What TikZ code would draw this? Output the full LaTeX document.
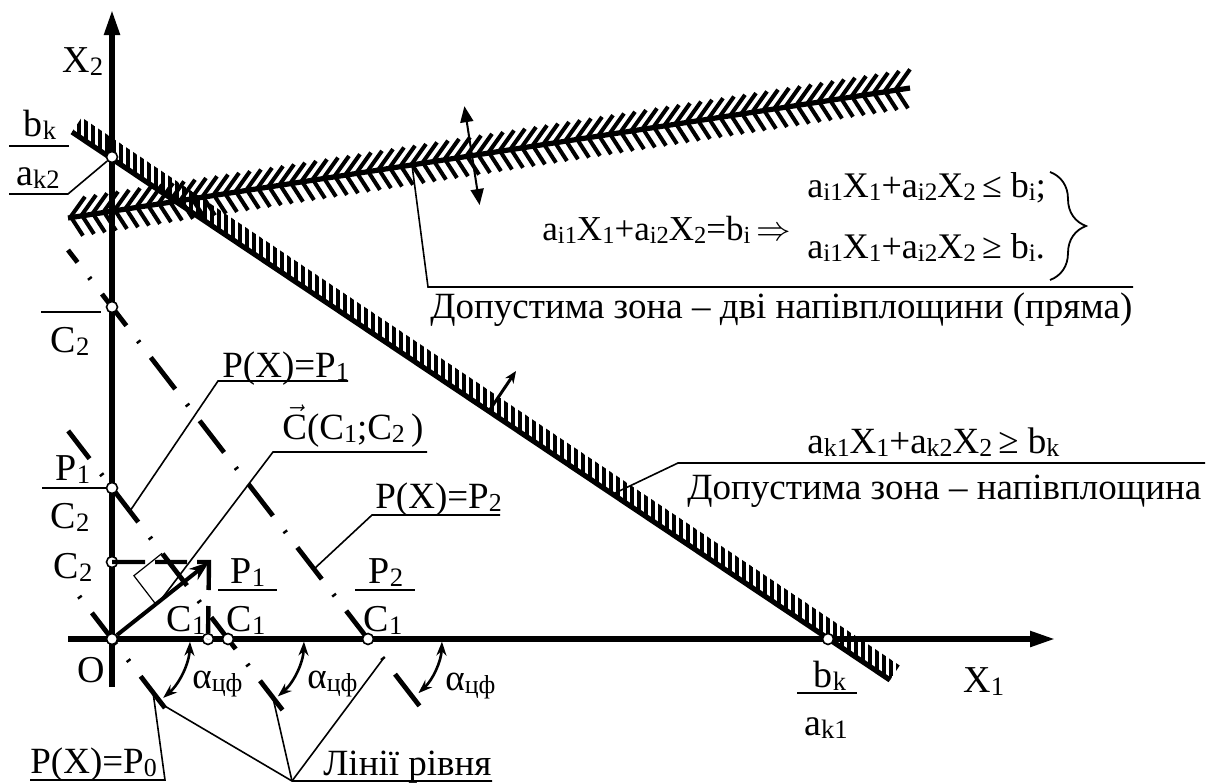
\documentclass[tikz,border=0pt]{standalone}
\usepackage{fontspec}
\setmainfont{Liberation Serif}
\usepackage{graphicx}
\usetikzlibrary{arrows.meta,calc,decorations.pathreplacing}
\newcommand{\ssub}[1]{\raisebox{-0.22ex}{\scalebox{0.7}{#1}}}
\begin{document}
\begin{tikzpicture}[x=0.5pt,y=-0.5pt,
 axis/.style={line width=2.6pt,-{Triangle[length=12.5pt,width=7.5pt]}},
 thickline/.style={line width=2.6pt},
 level/.style={line width=2.4pt,dash pattern=on 20pt off 9.5pt on 1.2pt off 9.3pt},
 thinl/.style={line width=0.8pt},
 ptc/.style={circle,draw,fill=white,line width=0.8pt,inner sep=0pt,minimum size=5.5pt},
 lbl/.style={font=\fontsize{19}{21}\selectfont,inner sep=0pt,anchor=base},
 txt/.style={font=\fontsize{18.5}{20}\selectfont,inner sep=0pt,anchor=base west},
 hk/.style={line width=1.6pt},
 hi/.style={line width=2pt},
 alph/.style={line width=1.3pt,{Stealth[length=7pt,width=5pt]}-{Stealth[length=7pt,width=5pt]}},
]
\useasboundingbox (0,0) rectangle (1215,782);

% ---- constraint k: half-plane band
\coordinate (kA) at (72,132);
\coordinate (kB) at (890,680);
\begin{scope}
\clip (kA) -- (kB) -- (899.7,665.5) -- (81.7,117.5) -- cycle;
\foreach \x in {72,79,...,905}
  \draw[hk] (\x,{132+(\x-72)*0.6699+2}) -- (\x,{132+(\x-72)*0.6699-28});
\end{scope}

% ---- constraint i: straight line band (both sides)
\coordinate (iA) at (68,218);
\coordinate (iB) at (910,88);
\foreach \x in {70,81,...,900} {
  \draw[hi] (\x,{218-(\x-68)*0.15439}) -- ++(15,-21);
  \draw[hi] (\x,{218-(\x-68)*0.15439}) ++(2,1) -- ++(11,17);
}
\draw[thickline] (kA) -- (kB);
\draw[thickline] (iA) -- (iB);

% ---- axes
\coordinate (xa0) at (68,639);
\coordinate (xa1) at (1055,639);
\coordinate (ya0) at (112,687);
\coordinate (ya1) at (112,10);
\draw[axis] (xa0) -- (xa1);
\draw[axis] (ya0) -- (ya1);

% ---- level lines
\coordinate (p0s) at (78.5,595.4);
\coordinate (p0e) at (165,708);
\coordinate (p1s) at (68.2,430.9);
\coordinate (p1e) at (282.5,710);
\coordinate (p2s) at (68,250);
\coordinate (p2e) at (419.5,705.9);
\draw[level,dash phase=29pt] (p0s) -- (p0e);
\draw[level,dash phase=2.5pt] (p1s) -- (p1e);
\draw[level,dash phase=12.2pt] (p2s) -- (p2e);

% ---- gradient vector and its projections
\coordinate (corner) at (209,562);
\node[ptc] (cc2) at (112,562) {};
\node[ptc] (cc1) at (208,639) {};
\draw[line width=2.2pt,line join=miter,dash pattern=on 16.5pt off 5pt on 16pt off 5pt on 20pt off 8pt on 13.5pt off 3pt]
  (cc2.center) -- (corner) -- (cc1.center);
\node[ptc] (cO) at (112,639) {};
\draw[line width=2pt,-{Stealth[length=10pt,width=7pt]}] (cO) -- (corner);
\draw[line width=0.6pt] (155.8,604.2) -- (133.9,575.7) -- (162.1,553.3);

% ---- normal arrows
\draw[line width=1.5pt,-{Stealth[length=6pt,width=5pt]}] (489,411) -- (516,371);
\draw[line width=1pt,{Triangle[length=8pt,width=6.5pt]}-{Triangle[length=8pt,width=6.5pt]}] (464.4,106.2) -- (479.6,205);

% ---- intercept points
\node[ptc] (ck) at (112,157) {};
\node[ptc] (cc2a) at (112,307) {};
\node[ptc] (cp1) at (112,488) {};
\node[ptc] (cp1c1) at (228,639) {};
\node[ptc] (cp2c1) at (368,639) {};
\node[ptc] (cbk) at (828,639) {};

% ---- angle arcs
\draw[alph] ($(cO.center)+(2:78)$) arc[start angle=2,end angle=49,radius=78];
\draw[alph] ($(cp1c1.center)+(2:76)$) arc[start angle=2,end angle=49,radius=76];
\draw[alph] ($(cp2c1.center)+(2:74)$) arc[start angle=2,end angle=47,radius=74];

% ---- axis labels and fractions
\node[txt,font=\fontsize{19}{21}\selectfont] (lx2) at (62,72) {X\ssub{2}};
\node[txt,font=\fontsize{19}{21}\selectfont] (lx1) at (963,692) {X\ssub{1}};
\node[lbl] (lo) at (91,682) {O};
\node[lbl] (lbk) at (40,136) {b\ssub{k}};
\node[lbl] (lak2) at (38,185) {a\ssub{k2}};
\draw[thinl] (9,146) -- (69,146);
\draw[thinl] (9,194) -- (68,194) -- (ck);
\draw[thinl] (41,312) -- (101,312);
\node[lbl] (lc2a) at (70,352) {C\ssub{2}};
\node[lbl] (lp1a) at (73,480) {P\ssub{1}};
\draw[thinl] (42,488) -- (cp1);
\node[lbl] (lc2b) at (70,528) {C\ssub{2}};
\node[lbl] (lc2c) at (73,578) {C\ssub{2}};
\node[lbl] (lc1a) at (186,631) {C\ssub{1}};
\node[lbl] (lp1b) at (248,583) {P\ssub{1}};
\draw[thinl] (218,590) -- (277,590);
\node[lbl] (lc1b) at (246,631) {C\ssub{1}};
\node[lbl] (lp2) at (386,583) {P\ssub{2}};
\draw[thinl] (355,590) -- (415,590);
\node[lbl] (lc1c) at (383,631) {C\ssub{1}};
\node[lbl] (lbk2) at (830,687) {b\ssub{k}};
\draw[thinl] (797,693) -- (857,693);
\node[lbl] (lak1) at (826,735) {a\ssub{k1}};

% ---- angle labels
\node[txt] (al1) at (192,688) {α\ssub{цф}};
\node[txt] (al2) at (307,688) {α\ssub{цф}};
\node[txt] (al3) at (445,690) {α\ssub{цф}};

% ---- leader labels
\node[txt] (tp1) at (222,377) {P(X)=P\ssub{1}};
\draw[thinl] (348,381) -- (218,381) -- (130,511);
\node[txt] (tc) at (282,439) {$\vec{\mbox{C}}$(C\ssub{1};C\ssub{2}\,)};
\draw[thinl] (427,452) -- (273,452) -- (160,601);
\node[txt] (tp2) at (375,508) {P(X)=P\ssub{2}};
\draw[thinl] (500,515) -- (372,515) -- (314,569);
\node[txt] (tp0) at (30,773) {P(X)=P\ssub{0}};
\draw[thinl] (30,780) -- (165,780) -- (153,692);
\node[txt] (tlr) at (323,775) {Лінії рівня};
\coordinate (lrf) at (292,781);
\draw[thinl] (492,781) -- (lrf) -- (163,705);
\draw[thinl] (lrf) -- (273,698);
\draw[thinl] (lrf) -- (383,659);

% ---- equality constraint text
\node[txt,font=\fontsize{17.5}{19}\selectfont] (eqi) at (542,240) {a\ssub{i1}X\ssub{1}+a\ssub{i2}X\ssub{2}=b\ssub{i}\,$\Rightarrow$};
\node[txt,font=\fontsize{18}{20}\selectfont] (eq1) at (807,197) {a\ssub{i1}X\ssub{1}+a\ssub{i2}X\ssub{2}\,≤ b\ssub{i};};
\node[txt,font=\fontsize{18}{20}\selectfont] (eq2) at (807,258) {a\ssub{i1}X\ssub{1}+a\ssub{i2}X\ssub{2}\,≥ b\ssub{i}.};
\draw[line width=0.9pt,decorate,decoration={brace,amplitude=18pt}] (1050,172) -- (1050,280);
\draw[thinl] (412,165) -- (428,287) -- (1133,287);
\node[txt] (tdz2) at (430,318) {Допустима зона – дві напівплощини (пряма)};

% ---- half-plane constraint text
\node[txt] (eqk) at (807,453) {a\ssub{k1}X\ssub{1}+a\ssub{k2}X\ssub{2}\,≥ b\ssub{k}};
\draw[thinl] (613,494) -- (678,463) -- (1205,463);
\node[txt] (tdz1) at (687,499) {Допустима зона – напівплощина};
\end{tikzpicture}
\end{document}
